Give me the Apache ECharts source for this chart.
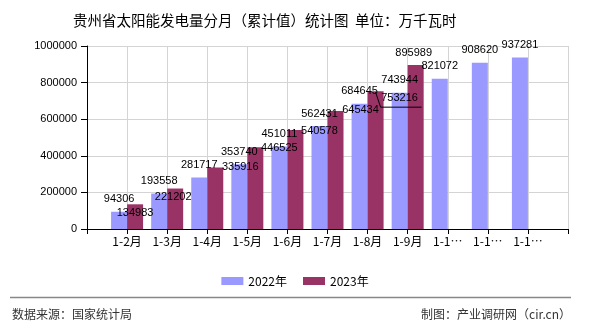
<!DOCTYPE html>
<html>
<head>
<meta charset="utf-8">
<script src="https://cdn.jsdelivr.net/npm/echarts@6/dist/echarts.min.js"></script>
<style>
html,body{margin:0;padding:0;background:#fff;}
#chart{width:590px;height:330px;}
</style>
</head>
<body>
<div id="chart"></div>
<script>
// ---- data ----
const categories = ['', '1-2月', '1-3月', '1-4月', '1-5月', '1-6月', '1-7月', '1-8月', '1-9月', '1-10月', '1-11月', '1-12月', ''];
const values2022 = [null, 94306, 193558, 281717, 353740, 451011, 562431, 684645, 743944, 821072, 908620, 937281, null];
const values2023 = [null, 134983, 221202, 335916, 446525, 540578, 645434, 753216, 895989, null, null, null, null];
const seriesNames = ['2022年', '2023年'];
const titleText = '贵州省太阳能发电量分月（累计值）统计图  单位：万千瓦时';
const sourceText = '数据来源：国家统计局';
const creditText = '制图：产业调研网（cir.cn）';

// ---- label placement (styling) ----
const labelShift2023 = {
  1: [0, 21], 2: [-2, 21], 3: [25, 12], 4: [24, 13], 5: [24, 13],
  6: [25, 12], 7: [24, 19], 8: [-2, 0]
};
const leaderIndex = 7;
const barW = 16;

const numFont = '"Liberation Sans", Arial, sans-serif';
const cjkFont = '"Noto Sans CJK SC", "Liberation Sans", sans-serif';

const chart = echarts.init(document.getElementById('chart'));
chart.setOption({
  animation: false,
  backgroundColor: '#fff',
  title: {
    text: titleText, left: 68, top: 8,
    textStyle: { fontSize: 14.5, fontWeight: 'normal', color: '#000', fontFamily: cjkFont }
  },
  legend: {
    data: seriesNames, top: 270, left: 'center', itemWidth: 22, itemHeight: 8, itemGap: 16,
    icon: 'rect',
    textStyle: { fontSize: 12, color: '#000', fontFamily: cjkFont }
  },
  grid: { left: 87, right: 22, top: 46, bottom: 101, containLabel: false },
  xAxis: {
    type: 'category', data: categories, boundaryGap: false,
    axisLine: { lineStyle: { color: '#000', width: 1 } },
    axisTick: { show: true, length: 5, interval: 0, lineStyle: { color: '#000' } },
    axisLabel: {
      interval: 0, margin: 6, color: '#000', fontSize: 12, fontFamily: cjkFont,
      formatter: v => (v.length > 4 ? v.slice(0, 3) + '…' : v)
    },
    splitLine: { show: true, interval: 0, lineStyle: { color: '#d4d4d4', width: 1 } }
  },
  yAxis: {
    type: 'value', min: 0, max: 1000000, interval: 200000,
    axisLine: { show: true, lineStyle: { color: '#000', width: 1 } },
    axisTick: { show: true, inside: false, length: 6, lineStyle: { color: '#000' } },
    axisLabel: { margin: 10, color: '#000', fontSize: 11, fontFamily: numFont, formatter: v => String(v) },
    splitLine: { show: true, lineStyle: { color: '#d4d4d4', width: 1 } }
  },
  series: [
    {
      name: seriesNames[0], type: 'bar', data: values2022,
      barWidth: barW, barGap: '0%',
      itemStyle: { color: '#9999ff' },
      label: { show: true, position: 'top', distance: 7, color: '#000', fontSize: 11, fontFamily: numFont }
    },
    {
      name: seriesNames[1], type: 'bar', data: values2023,
      barWidth: barW, barGap: '0%',
      itemStyle: { color: '#993366' },
      label: { show: true, position: 'top', distance: 7, color: '#000', fontSize: 11, fontFamily: numFont },
      labelLayout: function (p) {
        const s = labelShift2023[p.dataIndex];
        return s ? { dx: s[0], dy: s[1] } : {};
      }
    }
  ],
  graphic: [
    { type: 'line', shape: { x1: 10, y1: 297.5, x2: 571, y2: 297.5 }, style: { stroke: '#888', lineWidth: 1.5 } },
    { type: 'text', left: 12, top: 308, style: { text: sourceText, fill: '#333', font: '12px ' + cjkFont } },
    { type: 'text', right: 19, top: 308, style: { text: creditText, fill: '#333', font: '12px ' + cjkFont } }
  ]
});

// leader line for the displaced label, anchored through the chart's own scales
const anchor = chart.convertToPixel({ seriesIndex: 1 }, [leaderIndex, values2023[leaderIndex]]);
if (anchor) {
  const cx = anchor[0] + barW / 2, top = anchor[1];
  chart.setOption({
    graphic: [
      { type: 'line', shape: { x1: 10, y1: 297.5, x2: 571, y2: 297.5 }, style: { stroke: '#888', lineWidth: 1.5 } },
      { type: 'text', left: 12, top: 308, style: { text: sourceText, fill: '#333', font: '12px ' + cjkFont } },
      { type: 'text', right: 19, top: 308, style: { text: creditText, fill: '#333', font: '12px ' + cjkFont } },
      { type: 'polyline', z: 100, shape: { points: [[cx, top + 1], [cx + 5, top + 16], [cx + 46, top + 16]] }, style: { stroke: '#000', lineWidth: 1, fill: null } }
    ]
  }, { replaceMerge: ['graphic'] });
}
</script>
</body>
</html>
